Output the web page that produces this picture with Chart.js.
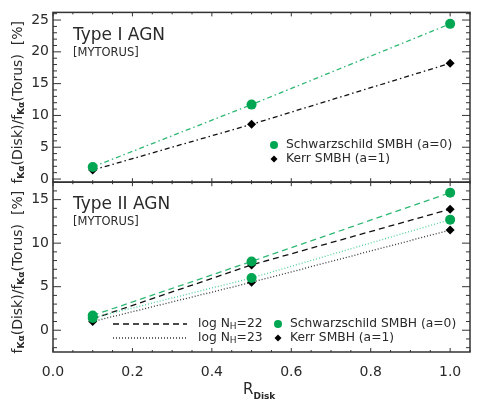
<!DOCTYPE html>
<html>
<head>
<meta charset="utf-8">
<script src="https://cdn.jsdelivr.net/npm/chart.js@4/dist/chart.umd.min.js"></script>
<style>
  html, body { margin: 0; padding: 0; background: #fff; }
</style>
</head>
<body>
<canvas id="chart" width="480" height="408"></canvas>
<script>
// R_Disk values where the models were computed
const rDisk = [0.1, 0.5, 1.0];

// Type I AGN (top panel)
const typeISchwarzschild = [1.9, 11.7, 24.4];
const typeIKerr = [1.4, 8.6, 18.2];

// Type II AGN (bottom panel)
const nh22Schwarzschild = [1.7, 7.9, 15.8];
const nh22Kerr = [1.3, 7.5, 13.9];
const nh23Schwarzschild = [1.4, 6.0, 12.7];
const nh23Kerr = [1.0, 5.5, 11.5];

// tick labels
const xTicks = [0.0, 0.2, 0.4, 0.6, 0.8, 1.0];
const topTicks = [0, 5, 10, 15, 20, 25];
const bottomTicks = [0, 5, 10, 15];

const GREEN = "#00a651";
const GREEN_LINE = "#2fb874";
const GREEN_DOT = "#52d19a";
const INK = "#2a2a2a";
const FONT = "DejaVu Sans";

function series(label, values, axis, color, dash, pointStyle, pointColor, radius) {
    return {
        label: label,
        data: rDisk.map((x, i) => ({ x: x, y: values[i] })),
        yAxisID: axis,
        borderColor: color,
        borderWidth: 1.3,
        borderDash: dash,
        pointStyle: pointStyle,
        pointRadius: radius,
        pointBackgroundColor: pointColor,
        pointBorderColor: pointColor,
        pointBorderWidth: 0,
        tension: 0,
        fill: false
    };
}

const dashDot = [5, 3, 1.5, 3];
const dashed = [6, 4];
const dotted = [1, 2];

const datasets = [
    series("Schwarzschild SMBH (a=0)", typeISchwarzschild, "yTop", GREEN_LINE, dashDot, "circle", GREEN, 5),
    series("Kerr SMBH (a=1)", typeIKerr, "yTop", "#111", dashDot, "rectRot", "#000", 4.5),
    series("log NH=22 Schwarzschild", nh22Schwarzschild, "yBot", GREEN_LINE, dashed, "circle", GREEN, 5),
    series("log NH=23 Schwarzschild", nh23Schwarzschild, "yBot", GREEN_DOT, dotted, "circle", GREEN, 5),
    series("log NH=22 Kerr", nh22Kerr, "yBot", "#111", dashed, "rectRot", "#000", 4.5),
    series("log NH=23 Kerr", nh23Kerr, "yBot", "#333", dotted, "rectRot", "#000", 4.5)
];

function yScale(min, max, ticks) {
    return {
        type: "linear",
        position: "left",
        stack: "panels",
        stackWeight: 1,
        min: min,
        max: max,
        grid: { display: false, drawTicks: false },
        border: { display: false },
        afterBuildTicks: s => { s.ticks = ticks.map(v => ({ value: v })); },
        afterFit: s => { s.width = 53; },
        ticks: { font: { family: FONT, size: 14 }, color: INK, padding: 4 }
    };
}

function line(ctx, x1, y1, x2, y2) {
    ctx.beginPath();
    ctx.moveTo(x1, y1);
    ctx.lineTo(x2, y2);
    ctx.stroke();
}

function drawFrame(ctx, x, y) {
    const L = x.left, R = x.right, T = y.top, B = y.bottom;
    ctx.strokeStyle = "#333";
    ctx.lineWidth = 1;
    for (let v = Math.ceil(y.min); v <= y.max; v++) {
        const py = y.getPixelForValue(v);
        const len = v % 5 === 0 ? 8 : 4;
        line(ctx, L, py, L + len, py);
        line(ctx, R, py, R - len, py);
    }
    for (let i = 0; i * 0.05 <= x.max + 1e-9; i++) {
        const px = x.getPixelForValue(i * 0.05);
        const len = i % 4 === 0 ? 4 : 2;
        line(ctx, px, B, px, B - len);
        line(ctx, px, T, px, T + len);
    }
    ctx.lineWidth = 1.5;
    ctx.strokeRect(L, T, R - L, B - T);
}

// draws text pieces [text, font, shift] one after another
function drawPieces(ctx, pieces, x, y) {
    for (const p of pieces) {
        ctx.font = p[1];
        ctx.fillText(p[0], x, y + p[2]);
        x += ctx.measureText(p[0]).width;
    }
    return x;
}

function piecesWidth(ctx, pieces) {
    let w = 0;
    for (const p of pieces) { ctx.font = p[1]; w += ctx.measureText(p[0]).width; }
    return w;
}

function drawYTitle(ctx, cx, cy) {
    const main = "14px " + FONT, sub = "bold 9px " + FONT;
    const pieces = [["f", main, 0], ["K\u03b1", sub, 4], ["(Disk)/f", main, 0],
                    ["K\u03b1", sub, 4], ["(Torus)  [%]", main, 0]];
    ctx.save();
    ctx.translate(cx, cy);
    ctx.rotate(-Math.PI / 2);
    ctx.textBaseline = "middle";
    drawPieces(ctx, pieces, -piecesWidth(ctx, pieces) / 2, 0);
    ctx.restore();
}

function circle(ctx, x, y, r) {
    ctx.fillStyle = GREEN;
    ctx.beginPath();
    ctx.arc(x, y, r, 0, Math.PI * 2);
    ctx.fill();
}

function diamond(ctx, x, y, r) {
    ctx.fillStyle = "#000";
    ctx.beginPath();
    ctx.moveTo(x, y - r);
    ctx.lineTo(x + r, y);
    ctx.lineTo(x, y + r);
    ctx.lineTo(x - r, y);
    ctx.closePath();
    ctx.fill();
}

const decor = {
    id: "decor",
    afterDraw(chart) {
        const ctx = chart.ctx;
        const x = chart.scales.x, yTop = chart.scales.yTop, yBot = chart.scales.yBot;
        ctx.save();
        drawFrame(ctx, x, yTop);
        drawFrame(ctx, x, yBot);

        ctx.fillStyle = INK;
        ctx.textBaseline = "alphabetic";
        ctx.textAlign = "left";
        const lx = x.left + 20;
        ctx.font = "17px " + FONT;
        ctx.fillText("Type I AGN", lx, yTop.top + 27.5);
        ctx.fillText("Type II AGN", lx, yBot.top + 26.7);
        ctx.font = "11.5px " + FONT;
        ctx.fillText("[MYTORUS]", lx, yTop.top + 43.5);
        ctx.fillText("[MYTORUS]", lx, yBot.top + 43);

        drawYTitle(ctx, 18, (yTop.top + yTop.bottom) / 2 + 5);
        drawYTitle(ctx, 18, (yBot.top + yBot.bottom) / 2 + 5);

        // x title
        ctx.fillStyle = INK;
        drawPieces(ctx, [["R", "15px " + FONT, 0], ["Disk", "bold 9px " + FONT, 5]], 243, 394);

        // legends
        const leg = "12.3px " + FONT;
        ctx.textBaseline = "middle";
        circle(ctx, 274, 145, 4);
        diamond(ctx, 274, 159, 3.5);
        ctx.fillStyle = INK;
        ctx.font = leg;
        ctx.fillText("Schwarzschild SMBH (a=0)", 286, 145);
        ctx.fillText("Kerr SMBH (a=1)", 286, 159);

        circle(ctx, 278, 324, 4);
        diamond(ctx, 278, 338, 3.5);
        ctx.fillStyle = INK;
        ctx.font = leg;
        ctx.fillText("Schwarzschild SMBH (a=0)", 290, 324);
        ctx.fillText("Kerr SMBH (a=1)", 290, 338);

        ctx.strokeStyle = "#111";
        ctx.lineWidth = 1.3;
        ctx.setLineDash(dashed);
        line(ctx, 113, 324, 187, 324);
        ctx.strokeStyle = "#333";
        ctx.setLineDash(dotted);
        line(ctx, 113, 338, 187, 338);
        ctx.setLineDash([]);
        ctx.fillStyle = INK;
        const sub = "9px " + FONT;
        drawPieces(ctx, [["log N", leg, 0], ["H", sub, 3], ["=22", leg, 0]], 198, 324);
        drawPieces(ctx, [["log N", leg, 0], ["H", sub, 3], ["=23", leg, 0]], 198, 338);
        ctx.restore();
    }
};

new Chart(document.getElementById("chart"), {
    type: "line",
    data: { datasets: datasets },
    options: {
        responsive: false,
        animation: false,
        devicePixelRatio: 1,
        layout: { padding: { left: 0, right: 10, top: 7, bottom: 0 } },
        plugins: { legend: { display: false }, tooltip: { enabled: false } },
        scales: {
            x: {
                type: "linear",
                min: 0,
                max: 1.05,
                grid: { display: false, drawTicks: false },
                border: { display: false },
                afterBuildTicks: s => { s.ticks = xTicks.map(v => ({ value: v })); },
                afterFit: s => { s.height = 56; },
                ticks: {
                    font: { family: FONT, size: 14 },
                    color: INK,
                    padding: 12,
                    maxRotation: 0,
                    autoSkip: false,
                    callback: v => v.toFixed(1)
                }
            },
            yBot: yScale(-2.5, 17, bottomTicks),
            yTop: yScale(-0.5, 26.2, topTicks)
        }
    },
    plugins: [decor]
});
</script>
</body>
</html>
